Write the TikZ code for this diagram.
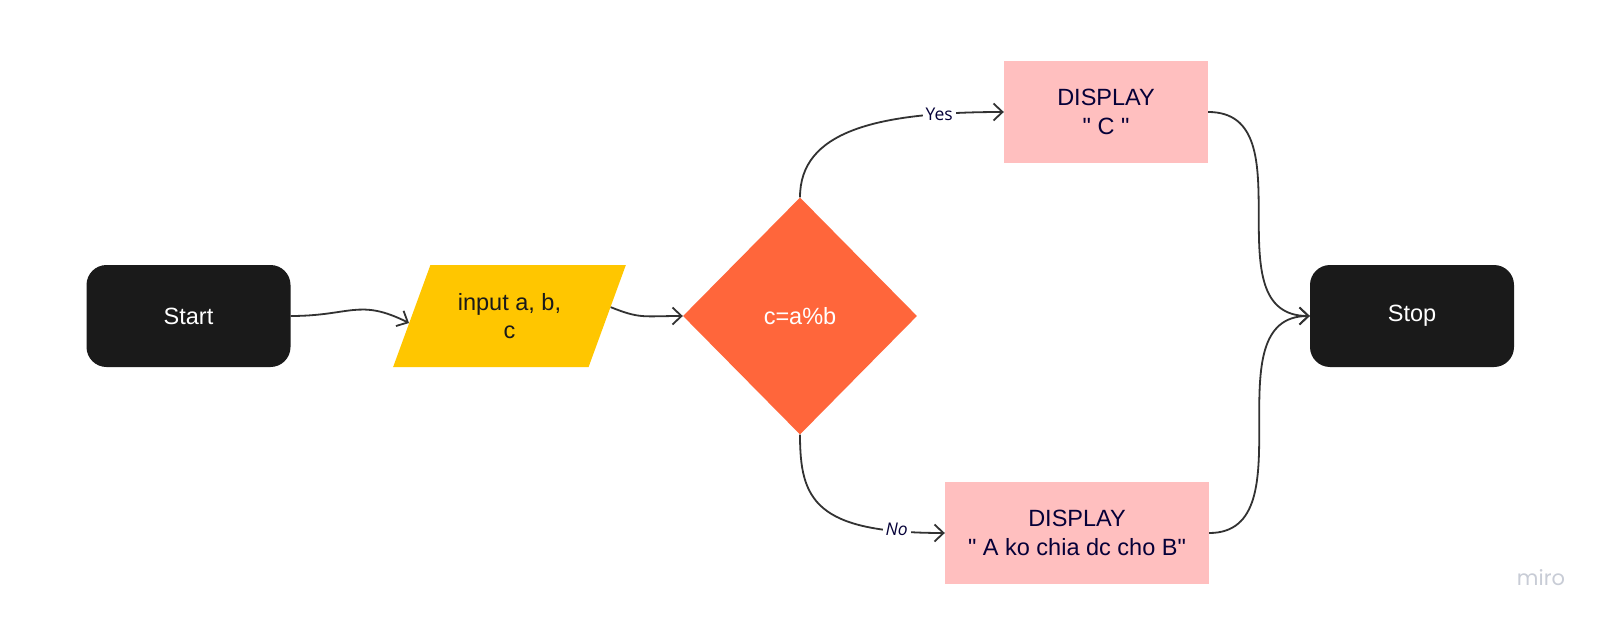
\documentclass[tikz,border=0pt]{standalone}
\usepackage{fontspec}
\setmainfont{Liberation Sans}[Ligatures=TeXOff]
\newfontfamily\lblfont{Open Sans}
\newfontfamily\wmfont{Poppins}
\usetikzlibrary{shapes.geometric,arrows.meta}
\definecolor{darkbox}{RGB}{26,26,26}
\definecolor{yellowbox}{RGB}{255,198,0}
\definecolor{orangebox}{RGB}{255,102,59}
\definecolor{pinkbox}{RGB}{255,191,191}
\definecolor{navytext}{RGB}{5,0,56}
\definecolor{conn}{RGB}{50,50,50}
\definecolor{wmark}{RGB}{200,204,214}
\tikzset{
  boxtext/.style={font=\fontsize{23.5}{28.5}\selectfont, align=center},
  termbox/.style={boxtext, rectangle, rounded corners=20pt, fill=darkbox, text=white,
    minimum width=204pt, minimum height=102pt, inner sep=0pt},
  iobox/.style={boxtext, trapezium, trapezium left angle=62, trapezium right angle=118,
    trapezium stretches=true, fill=yellowbox, text=darkbox,
    minimum width=233pt, minimum height=102pt, inner sep=0pt},
  decbox/.style={boxtext, diamond, fill=orangebox, text=white,
    minimum width=234pt, minimum height=237pt, inner sep=0pt},
  outbox/.style={boxtext, rectangle, fill=pinkbox, text=navytext,
    minimum height=102pt, inner sep=0pt},
  conline/.style={draw=conn, line width=1.8pt,
    -{Straight Barb[length=9pt,width=17pt]}},
  lbl/.style={font=\lblfont\fontsize{17.5}{20}\selectfont, text=navytext,
    fill=white, inner sep=3pt},
}
\begin{document}
\begin{tikzpicture}[x=1pt,y=-1pt]
\useasboundingbox[fill=white] (0,0) rectangle (1603,623);

\node[termbox] (start) at (188.5,316) {Start};
\node[iobox] (inp) at (509.5,316) {input a, b,\\c};
\node[decbox] (dec) at (800,316) {c=a\%b};
\node[outbox, minimum width=204pt] (dispc) at (1106,112) {DISPLAY\\" C "};
\node[outbox, minimum width=264pt] (dispa) at (1077,533) {DISPLAY\\" A ko chia dc cho B"};
\node[termbox] (stop) at (1412,316) {Stop};

\draw[conline] (start.east) .. controls +(60,0) and +(-50,-25) .. (inp.184);
\draw[conline] (inp.5) .. controls +(30,12) and +(-40,0) .. (dec.west);
\draw[conline] (dec.north) .. controls +(0,-65) and +(-130,0) .. (dispc.west)
  node[lbl, pos=0.82] {Yes};
\draw[conline] (dec.south) .. controls +(0,65) and +(-130,0) .. (dispa.west)
  node[lbl, pos=0.86, yshift=2pt] {\itshape No};
\draw[conline] (dispc.east) .. controls +(100,0) and +(-100,0) .. (stop.west);
\draw[conline] (dispa.east) .. controls +(100,0) and +(-100,0) .. (stop.west);

\node[font=\wmfont\fontsize{21}{24}\selectfont, text=wmark] (wm) at (1541,578) {miro};
\end{tikzpicture}
\end{document}
